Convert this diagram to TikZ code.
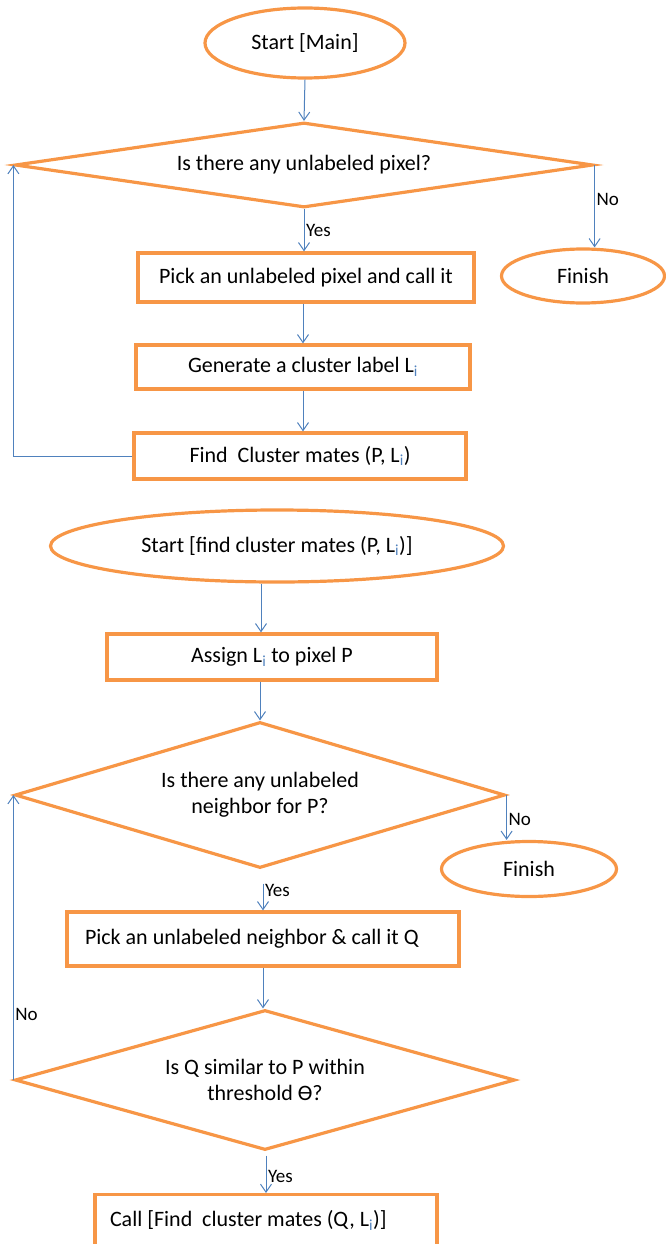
\documentclass[tikz,border=0pt]{standalone}
\usepackage{fontspec}
\setmainfont{Carlito}
\usetikzlibrary{shapes.geometric,arrows.meta,calc}
\definecolor{orng}{HTML}{F79646}
\definecolor{lblue}{HTML}{4F81BD}
\newcommand{\Lsub}{L\textsubscript{\textcolor{lblue}{i}}}
\begin{document}
\begin{tikzpicture}[x=1pt,y=-1pt,
 every node/.style={font=\fontsize{22}{26}\selectfont},
 term/.style={ellipse, draw=orng, line width=3.2pt, inner sep=0pt},
 proc/.style={rectangle, draw=orng, line width=3.2pt, inner sep=0pt},
 dec/.style={diamond, draw=orng, line width=3.2pt, inner sep=0pt, align=center},
 arr/.style={draw=lblue, line width=1pt, -{Straight Barb[length=8pt,width=11pt]}},
 lab/.style={font=\fontsize{19}{22}\selectfont, inner sep=1.5pt}]
\useasboundingbox (0,0) rectangle (666,1244);
\clip (0,0) rectangle (666,1244);
% ---- main
\node[term, minimum width=200pt, minimum height=70pt] (startA) at (305,43) {Start [Main]};
\node[dec, shape aspect=6.8, minimum width=578pt, minimum height=85pt] (d1) at (304,165) {Is there any unlabeled\ pixel?};
\node[term, minimum width=163pt, minimum height=54pt] (fin1) at (583,276) {Finish};
\node[proc, minimum width=336pt, minimum height=49pt] (b1) at (306,277.5) {Pick an unlabeled\ pixel and call it};
\node[proc, minimum width=334pt, minimum height=44pt] (b2) at (303,367) {Generate a cluster label \Lsub};
\node[proc, minimum width=332pt, minimum height=46pt] (b3) at (300,456) {Find\ \ Cluster mates (P, \Lsub)};
\draw[arr] (startA.south) -- (d1.north);
\draw[arr] (d1.south) -- node[lab, anchor=west, pos=0.5] {Yes} (d1.south |- b1.north);
\draw[arr] (d1.east) -- node[lab, anchor=west, pos=0.42] {No} (d1.east |- fin1.north);
\draw[arr] (b1.south -| b2.north) -- (b2.north);
\draw[arr] (b2.south) -- (b2.south |- b3.north);
\draw[arr] (b3.west) -| (d1.west);
% ---- find cluster mates
\node[term, minimum width=453pt, minimum height=72pt] (startB) at (277,546) {Start [find cluster mates (P, \Lsub)]};
\node[proc, minimum width=330pt, minimum height=46pt] (b4) at (272,657) {Assign \Lsub\ to pixel P};
\node[dec, shape aspect=3.35, minimum width=490pt, minimum height=146pt] (d2) at (260,795) {Is there any unlabeled\\neighbor for P?};
\node[term, minimum width=175pt, minimum height=55pt] (fin2) at (529,869) {Finish};
\node[proc, minimum width=392pt, minimum height=54pt, text width=356pt, inner xsep=18pt, align=flush left] (b5) at (263,939) {Pick an unlabeled neighbor \& call it Q};
\node[dec, shape aspect=3.6, minimum width=500pt, minimum height=140pt] (d3) at (265,1080) {Is Q similar to P within\\threshold ϴ?};
\node[proc, anchor=north, minimum width=342pt, text width=312pt, inner xsep=15pt, inner ysep=17pt, text height=15pt, text depth=45pt, align=flush left] (b6) at (266,1193) {Call [Find\ \ cluster mates (Q, \Lsub)]};
\draw[arr] ([xshift=-11pt]b4.north |- startB.south) -- ([xshift=-11pt]b4.north);
\draw[arr] (b4.south -| d2.north) -- (d2.north);
\draw[arr] (d2.east) -- node[lab, anchor=west, pos=0.55] {No} (d2.east |- fin2.north);
\draw[arr, shorten <=14pt] (d2.south -| b5.north) -- node[lab, anchor=west, pos=0.5] {Yes} (b5.north);
\draw[arr] (b5.south) -- (b5.south |- d3.north);
\draw[arr, shorten <=4pt] (d3.south -| b6.north) -- node[lab, anchor=west, pos=0.6] {Yes} (b6.north);
\draw[arr] (d3.west) -- node[lab, anchor=west, pos=0.23] {No} (d2.west);
\end{tikzpicture}
\end{document}
